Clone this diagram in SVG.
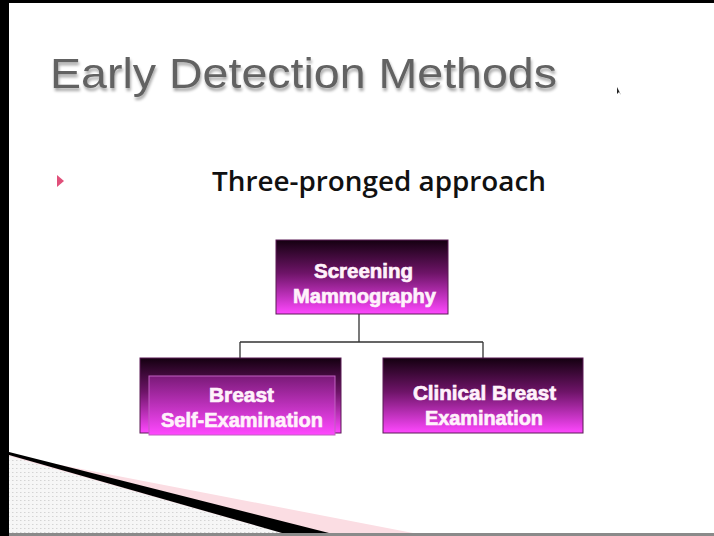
<svg xmlns="http://www.w3.org/2000/svg" width="714" height="536" viewBox="0 0 714 536">
<style>
.node-text{font-family:"Liberation Sans",Arial,sans-serif;font-weight:bold;font-size:21px;fill:#fff2fb;stroke:#fff2fb;stroke-width:0.7;text-anchor:start}
.conn{stroke:#333;stroke-width:1.3;fill:none}
</style>
<defs>
<linearGradient id="g" x1="0" y1="0" x2="0" y2="1">
<stop offset="0" stop-color="#140010"/>
<stop offset="0.45" stop-color="#6e1468"/>
<stop offset="1" stop-color="#ff48ff"/>
</linearGradient>
<linearGradient id="gi" x1="0" y1="0" x2="0" y2="1">
<stop offset="0" stop-color="#7a1a78"/>
<stop offset="1" stop-color="#ff48ff"/>
</linearGradient>
<pattern id="dots" width="4" height="4" patternUnits="userSpaceOnUse">
<rect width="4" height="4" fill="#f6f6f6"/>
<rect x="0" y="0" width="1.5" height="1" fill="#d4d4d4"/>
</pattern>
<filter id="sh" x="-5%" y="-20%" width="110%" height="150%">
<feGaussianBlur in="SourceAlpha" stdDeviation="1.5"/>
<feOffset dx="1" dy="3" result="b"/>
<feComponentTransfer><feFuncA type="linear" slope="0.35"/></feComponentTransfer>
<feMerge><feMergeNode/><feMergeNode in="SourceGraphic"/></feMerge>
</filter>
</defs>
<rect width="714" height="536" fill="#000"/>
<rect x="9" y="3" width="705" height="530" fill="#fff"/>
<rect x="9" y="533" width="705" height="3" fill="#8a8a8a"/>
<!-- bottom-left decoration -->
<polygon points="9,455 413,533 9,533" fill="#fbdde3"/>
<polygon points="9,456 282,533 9,533" fill="url(#dots)"/>
<polygon points="9,452 329,533 282,533 9,455" fill="#000"/>
<!-- title -->
<text x="50" y="88" font-family="'Liberation Sans',Arial,sans-serif" font-size="42" fill="#626262" textLength="507" lengthAdjust="spacingAndGlyphs" filter="url(#sh)">Early Detection Methods</text>
<path d="M617,87 L617,94 L619,92 L621,95 Z" fill="#222"/>
<polygon points="57,175 64,181 57,187" fill="#e0507a"/>
<text x="212" y="191" font-family="'Open Sans','DejaVu Sans',sans-serif" font-weight="600" font-size="27" fill="#111" textLength="334" lengthAdjust="spacingAndGlyphs">Three-pronged approach</text>
<g id="connectors">
<path class="conn" d="M359,314 V342 M240,342 H483 M240,342 V358 M483,342 V358"/>
</g>
<g id="node-screening">
<rect x="276" y="240" width="172" height="74" fill="url(#g)" stroke="#5a1a55" stroke-width="1"/>
<text class="node-text" x="314" y="278" textLength="99" lengthAdjust="spacingAndGlyphs">Screening</text>
<text class="node-text" x="293" y="303" textLength="143" lengthAdjust="spacingAndGlyphs">Mammography</text>
</g>
<g id="node-bse">
<rect x="140" y="358" width="201" height="75" fill="url(#g)" stroke="#5a1a55" stroke-width="1"/>
<rect x="149" y="376" width="186" height="59" fill="url(#gi)" stroke="#c060c0" stroke-width="1"/>
<text class="node-text" x="209" y="402" textLength="65" lengthAdjust="spacingAndGlyphs">Breast</text>
<text class="node-text" x="161" y="427" textLength="162" lengthAdjust="spacingAndGlyphs">Self-Examination</text>
</g>
<g id="node-cbe">
<rect x="383" y="358" width="200" height="75" fill="url(#g)" stroke="#5a1a55" stroke-width="1"/>
<text class="node-text" x="413" y="400" textLength="143" lengthAdjust="spacingAndGlyphs">Clinical Breast</text>
<text class="node-text" x="425" y="425" textLength="118" lengthAdjust="spacingAndGlyphs">Examination</text>
</g>
</svg>
